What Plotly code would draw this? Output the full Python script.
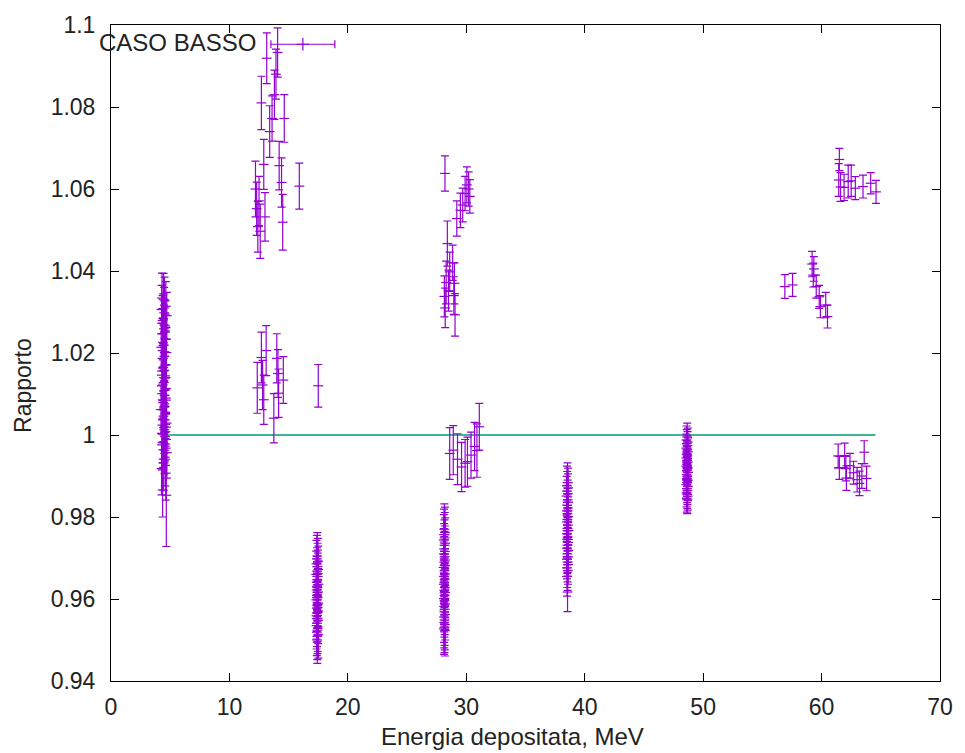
import plotly.graph_objects as go

# ---------------- data ----------------
# cluster near 4.5 MeV
xA = [4.31, 4.52, 4.44, 4.63, 4.27, 4.49, 4.71, 4.36, 4.41, 4.58, 4.47, 4.33, 4.55, 4.62, 4.39, 4.24, 4.45, 4.68,
      4.51, 4.35, 4.6, 4.42, 4.5, 4.29, 4.57, 4.46, 4.38, 4.66, 4.32, 4.53, 4.64, 4.4, 4.48, 4.22, 4.59, 4.43,
      4.54, 4.7, 4.34, 4.5, 4.61, 4.37, 4.56, 4.65, 4.41, 4.3, 4.52, 4.72, 4.58, 4.45, 4.27, 4.62, 4.36, 4.67]
yA = [1.0334, 1.0327, 1.0331, 1.0314, 1.0306, 1.0298, 1.0291, 1.0279, 1.0284, 1.0266, 1.0259, 1.0247, 1.0251,
      1.0233, 1.0226, 1.0214, 1.0219, 1.0201, 1.0192, 1.0187, 1.0171, 1.0165, 1.0158, 1.0146, 1.0139, 1.0128,
      1.0122, 1.0113, 1.0101, 1.0097, 1.0085, 1.0079, 1.0068, 1.0062, 1.0051, 1.0046, 1.0037, 1.0029, 1.0024,
      1.0013, 1.0008, 1.0002, 0.9996, 0.9989, 0.9981, 0.9976, 0.9963, 0.9957, 0.9941, 0.9932, 0.9918, 0.9907,
      0.9866, 0.9853]
eA = [0.0061, 0.0058, 0.0063, 0.006, 0.0059, 0.0062, 0.0057, 0.0061, 0.006, 0.0063, 0.0058, 0.0061, 0.0059,
      0.0062, 0.006, 0.0058, 0.0063, 0.0061, 0.0059, 0.006, 0.0062, 0.0058, 0.0061, 0.006, 0.0063, 0.0059,
      0.0061, 0.0058, 0.0062, 0.006, 0.0059, 0.0061, 0.0063, 0.0058, 0.006, 0.0062, 0.0059, 0.0061, 0.006,
      0.0058, 0.0062, 0.0061, 0.0059, 0.0063, 0.006, 0.0061, 0.0058, 0.0062, 0.0065, 0.0068, 0.0064, 0.0066,
      0.0066, 0.0125]

# 12-16 MeV, upper band
xB1 = [12.2, 12.3, 12.4, 12.5, 12.6, 12.7, 12.9, 13.0, 13.15, 13.4, 13.6, 13.8, 13.93, 14.07, 14.2, 14.4, 14.5, 14.63, 15.9]
yB1 = [1.0600, 1.0552, 1.0508, 1.0571, 1.0497, 1.0810, 1.0660, 1.0532, 1.0919, 1.0740, 1.0772, 1.0830, 1.0880,
       1.0933, 1.0657, 1.0616, 1.0519, 1.0772, 1.0607]
eB1 = [0.0068, 0.0065, 0.0062, 0.0060, 0.0066, 0.0065, 0.0061, 0.0059, 0.0062, 0.0063, 0.0055, 0.0060, 0.0061,
       0.0060, 0.0059, 0.0060, 0.0068, 0.0058, 0.0056]

# 12-17.5 MeV, lower band
xB2 = [12.35, 12.7, 12.8, 12.9, 13.1, 13.75, 14.0, 14.1, 14.15, 14.55, 17.5]
yB2 = [1.0115, 1.0189, 1.0122, 1.0086, 1.0206, 1.0041, 1.0187, 1.0150, 1.0102, 1.0134, 1.0120]
eB2 = [0.0062, 0.0062, 0.0060, 0.0060, 0.0061, 0.0060, 0.0060, 0.0058, 0.0059, 0.0057, 0.0052]

# the single point with a horizontal error bar
xX = [16.2]
yX = [1.0953]
exX = [2.7]

# cluster near 17.4 MeV
xC = [17.42, 17.38, 17.47, 17.35, 17.44, 17.5, 17.4, 17.33, 17.46, 17.41, 17.37, 17.52, 17.43, 17.36, 17.48,
      17.39, 17.45, 17.34, 17.5, 17.42, 17.38, 17.47, 17.41, 17.35, 17.44, 17.49, 17.4, 17.36, 17.46, 17.43,
      17.38, 17.51, 17.42, 17.37, 17.45, 17.4, 17.47, 17.39, 17.44, 17.42]
yC = [0.9705, 0.9698, 0.9691, 0.9686, 0.9679, 0.9672, 0.9668, 0.9660, 0.9655, 0.9647, 0.9641, 0.9636, 0.9628,
      0.9622, 0.9617, 0.9609, 0.9603, 0.9598, 0.9590, 0.9585, 0.9578, 0.9571, 0.9566, 0.9559, 0.9553, 0.9548,
      0.9541, 0.9535, 0.9529, 0.9524, 0.9519, 0.9513, 0.9509, 0.9552, 0.9587, 0.9631, 0.9662, 0.9604, 0.9567,
      0.9500]
eC = 0.0057

# cluster near 28.2 MeV, low
xD = [28.15, 28.2, 28.12, 28.18, 28.1, 28.22, 28.16, 28.13, 28.19, 28.11, 28.17, 28.23, 28.14, 28.2, 28.09,
      28.16, 28.21, 28.12, 28.18, 28.15, 28.1, 28.19, 28.14, 28.22, 28.17, 28.11, 28.16, 28.2, 28.13, 28.18,
      28.15, 28.21, 28.12, 28.17, 28.14, 28.19, 28.16, 28.11, 28.2, 28.15]
yD = [0.9770, 0.9762, 0.9757, 0.9749, 0.9744, 0.9736, 0.9731, 0.9722, 0.9716, 0.9710, 0.9703, 0.9695, 0.9690,
      0.9682, 0.9677, 0.9669, 0.9661, 0.9655, 0.9648, 0.9641, 0.9636, 0.9628, 0.9621, 0.9616, 0.9609, 0.9601,
      0.9596, 0.9588, 0.9582, 0.9575, 0.9569, 0.9562, 0.9556, 0.9549, 0.9543, 0.9538, 0.9531, 0.9527, 0.9523,
      0.9601]
eD = 0.0062

# 28.5-31 MeV, near 1
xD2 = [28.6, 28.9, 29.26, 29.6, 29.9, 30.1, 30.4, 30.7, 30.9, 31.1]
yD2 = [0.9955, 0.9963, 0.9941, 0.9922, 0.9931, 0.9935, 0.9951, 0.9972, 0.9962, 1.0020]
eD2 = [0.0063, 0.006, 0.0062, 0.006, 0.0058, 0.006, 0.0056, 0.0059, 0.0065, 0.0057]

# 28-30.3 MeV, high
xD3 = [28.2, 28.15, 28.22, 28.3, 28.4, 28.5, 28.6, 28.85, 28.95, 29.05, 29.0, 29.2, 29.5, 29.7, 29.9, 30.05, 30.2, 30.3]
yD3 = [1.0638, 1.0338, 1.0310, 1.0372, 1.0467, 1.0352, 1.0398, 1.0420, 1.0340, 1.0293, 1.0370, 1.0528, 1.0548,
       1.0561, 1.0589, 1.0610, 1.0600, 1.0582]
eD3 = [0.0043, 0.005, 0.0048, 0.0052, 0.0055, 0.005, 0.0048, 0.0043, 0.0046, 0.0052, 0.005, 0.0043, 0.0042,
       0.0041, 0.0042, 0.0044, 0.0042, 0.0041]

# cluster near 38.5 MeV
xE = [38.55, 38.5, 38.6, 38.52, 38.58, 38.47, 38.56, 38.62, 38.51, 38.57, 38.49, 38.54, 38.6, 38.53, 38.48,
      38.58, 38.55, 38.63, 38.5, 38.56, 38.52, 38.59, 38.54, 38.48, 38.61, 38.53, 38.57, 38.5, 38.55, 38.6,
      38.52, 38.56, 38.54, 38.58, 38.51, 38.55]
yE = [0.9884, 0.9876, 0.9871, 0.9863, 0.9857, 0.9851, 0.9842, 0.9836, 0.9829, 0.9822, 0.9815, 0.9808, 0.9801,
      0.9794, 0.9788, 0.9780, 0.9772, 0.9767, 0.9759, 0.9751, 0.9746, 0.9738, 0.9731, 0.9724, 0.9718, 0.9710,
      0.9703, 0.9697, 0.9690, 0.9684, 0.9676, 0.9669, 0.9703, 0.9745, 0.9655, 0.9617]
eE = 0.0048

# cluster near 48.6 MeV
xF = [48.65, 48.6, 48.7, 48.62, 48.68, 48.57, 48.66, 48.72, 48.61, 48.67, 48.59, 48.64, 48.7, 48.63, 48.58,
      48.68, 48.65, 48.73, 48.6, 48.66, 48.62, 48.69, 48.64, 48.58, 48.71, 48.63, 48.67, 48.6, 48.65, 48.7,
      48.62, 48.66, 48.64, 48.68]
yF = [0.9995, 0.9988, 0.9983, 0.9979, 0.9974, 0.9968, 0.9964, 0.9959, 0.9953, 0.9949, 0.9944, 0.9938, 0.9934,
      0.9929, 0.9924, 0.9918, 0.9914, 0.9909, 0.9903, 0.9899, 0.9894, 0.9889, 0.9884, 0.9879, 0.9874, 0.9869,
      0.9864, 0.9859, 0.9855, 0.9851, 0.9846, 0.9842, 0.9892, 0.9921]
eF = 0.0034

# 57-60.5 MeV
xG = [56.9, 57.55, 59.2, 59.35, 59.3, 59.55, 59.8, 59.9, 60.35, 60.5]
yG = [1.0362, 1.0366, 1.0417, 1.0405, 1.0390, 1.0362, 1.0337, 1.0313, 1.0317, 1.0289]
eG = [0.0029, 0.0028, 0.0031, 0.003, 0.0029, 0.0028, 0.0028, 0.0027, 0.0031, 0.0028]

# 61-65 MeV, high
xH1 = [61.5, 61.45, 61.6, 61.9, 62.25, 62.5, 62.85, 63.5, 64.15, 64.6]
yH1 = [1.0672, 1.0622, 1.0605, 1.0604, 1.0618, 1.0620, 1.0602, 1.0606, 1.0614, 1.0593]
eH1 = [0.0027, 0.004, 0.0035, 0.0032, 0.004, 0.0038, 0.0028, 0.0028, 0.0026, 0.0028]

# 61-64 MeV, near 1
xH2 = [61.4, 61.5, 61.95, 62.05, 62.1, 62.4, 62.7, 63.0, 63.2, 63.4, 63.6, 63.8]
yH2 = [0.9949, 0.9920, 0.9950, 0.9918, 0.9895, 0.9925, 0.9908, 0.9891, 0.9882, 0.9900, 0.9958, 0.9894]
eH2 = [0.0029, 0.0028, 0.003, 0.003, 0.003, 0.003, 0.0028, 0.003, 0.003, 0.003, 0.0028, 0.003]

# reference line
line_x = [4.43, 64.55]
line_y = [1.0, 1.0]

x_ticks = [0, 10, 20, 30, 40, 50, 60, 70]
y_ticks = [0.94, 0.96, 0.98, 1.0, 1.02, 1.04, 1.06, 1.08, 1.1]
y_tick_text = ["0.94", "0.96", "0.98", "1", "1.02", "1.04", "1.06", "1.08", "1.1"]

title_text = "CASO BASSO"
x_title = "Energia depositata, MeV"
y_title = "Rapporto"

# ---------------- assemble ----------------
PURPLE = "#9400D3"
GREEN = "#009E73"
FONT = "Liberation Sans"
TXT = "#222"

def expand(e, n):
    return list(e) if isinstance(e, list) else [e] * n

groups = [(xA, yA, eA), (xB1, yB1, eB1), (xB2, yB2, eB2), (xC, yC, eC), (xD, yD, eD),
          (xD2, yD2, eD2), (xD3, yD3, eD3), (xE, yE, eE), (xF, yF, eF), (xG, yG, eG),
          (xH1, yH1, eH1), (xH2, yH2, eH2)]
all_x, all_y, all_e = [], [], []
for gx, gy, ge in groups:
    n = min(len(gx), len(gy))
    all_x += gx[:n]
    all_y += gy[:n]
    all_e += expand(ge, n)[:n]

fig = go.Figure()
fig.add_trace(go.Scatter(
    x=line_x, y=line_y, mode="lines",
    line=dict(color=GREEN, width=1.5), hoverinfo="skip"))
fig.add_trace(go.Scatter(
    x=all_x, y=all_y, mode="markers",
    marker=dict(symbol="line-ew", size=7, line=dict(color=PURPLE, width=1.2), color=PURPLE),
    error_y=dict(type="data", array=all_e, visible=True, color=PURPLE, thickness=1.2, width=4)))
fig.add_trace(go.Scatter(
    x=xX, y=yX, mode="markers",
    marker=dict(symbol="cross-thin", size=9, line=dict(color=PURPLE, width=1.2), color=PURPLE),
    error_x=dict(type="data", array=exX, visible=True, color=PURPLE, thickness=1.2, width=4)))

axis_common = dict(
    ticks="inside", ticklen=8, tickwidth=1, tickcolor="black",
    showline=True, linecolor="black", linewidth=1, mirror="ticks",
    showgrid=False, zeroline=False,
    tickfont=dict(family=FONT, size=23, color=TXT),
)
fig.update_xaxes(range=[0, 70], tickvals=x_ticks, ticklabelstandoff=5, **axis_common)
fig.update_yaxes(range=[0.94, 1.1], tickvals=y_ticks, ticktext=y_tick_text, ticklabelstandoff=10, **axis_common)

fig.update_layout(
    width=965, height=753,
    margin=dict(l=111, r=13, t=23, b=72),
    plot_bgcolor="white", paper_bgcolor="white",
    showlegend=False,
    font=dict(family=FONT, size=23, color=TXT),
    annotations=[
        dict(text=title_text, xref="paper", yref="paper", x=-0.017, y=0.974,
             xanchor="left", yanchor="middle", showarrow=False,
             font=dict(family=FONT, size=24, color=TXT)),
        dict(text=x_title, xref="paper", yref="paper", x=0.484, y=-0.085,
             xanchor="center", yanchor="middle", showarrow=False,
             font=dict(family=FONT, size=24, color=TXT)),
        dict(text=y_title, xref="paper", yref="paper", x=-0.106, y=0.45,
             xanchor="center", yanchor="middle", showarrow=False, textangle=-90,
             font=dict(family=FONT, size=23, color=TXT)),
    ],
)

fig.write_html("out.html")
